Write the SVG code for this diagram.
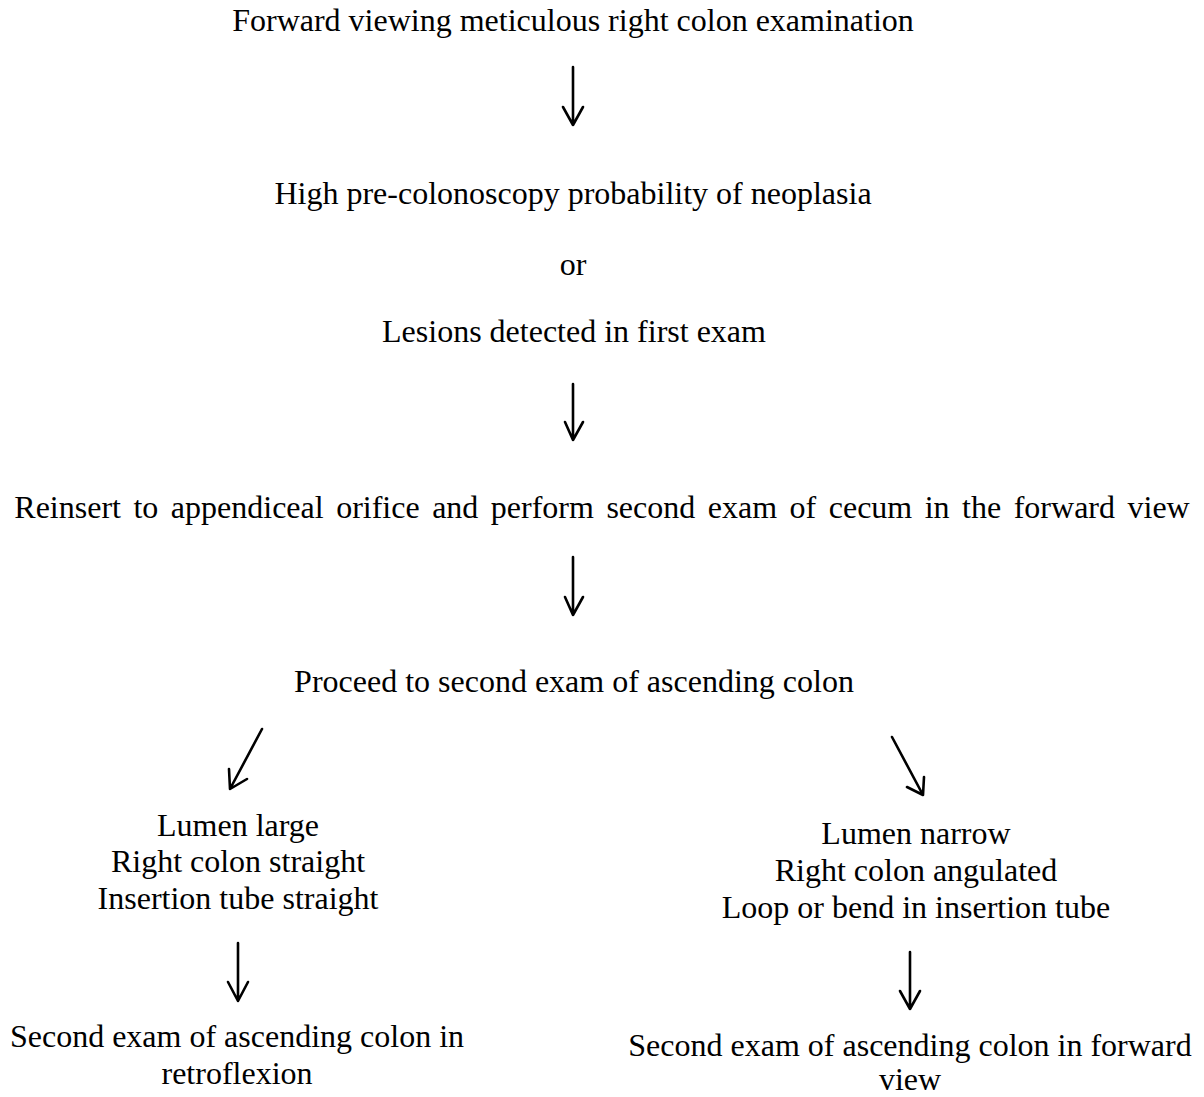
<svg xmlns="http://www.w3.org/2000/svg" width="1204" height="1097" viewBox="0 0 1204 1097">
<style>
  text { font-family: "Liberation Serif", "Times New Roman", serif; font-size: 32px; fill: #000; text-anchor: middle; }
  .arrow { fill: none; stroke: #000; stroke-width: 2.6; stroke-linecap: round; stroke-linejoin: round; }
</style>
<rect width="1204" height="1097" fill="#fff"/>
<g id="n1"><text x="573" y="31">Forward viewing meticulous right colon examination</text></g>
<g id="n2">
  <text x="573" y="204">High pre-colonoscopy probability of neoplasia</text>
  <text x="573" y="275">or</text>
  <text x="574" y="342">Lesions detected in first exam</text>
</g>
<g id="n3"><text x="602" y="518" word-spacing="4.5">Reinsert to appendiceal orifice and perform second exam of cecum in the forward view</text></g>
<g id="n4"><text x="574" y="692">Proceed to second exam of ascending colon</text></g>
<g id="n5">
  <text x="238" y="836">Lumen large</text>
  <text x="238" y="872">Right colon straight</text>
  <text x="238" y="909">Insertion tube straight</text>
</g>
<g id="n6">
  <text x="916" y="844">Lumen narrow</text>
  <text x="916" y="881">Right colon angulated</text>
  <text x="916" y="918">Loop or bend in insertion tube</text>
</g>
<g id="n7">
  <text x="237" y="1047">Second exam of ascending colon in</text>
  <text x="237" y="1084">retroflexion</text>
</g>
<g id="n8">
  <text x="910" y="1056">Second exam of ascending colon in forward</text>
  <text x="910" y="1090">view</text>
</g>
<g id="connectors">
  <path class="arrow" d="M573 67 V125 M563 107 L573 125 L583 107"/>
  <path class="arrow" d="M573 384 V440 M565 422 L573 440 L583 422"/>
  <path class="arrow" d="M573 557 V615 M565 597 L573 615 L583 597"/>
  <path class="arrow" d="M262 729 L230 789 M229 769 L230 789 L247 779"/>
  <path class="arrow" d="M892 737 L923 795 M924 777 L923 795 L907 787"/>
  <path class="arrow" d="M238 943 V1001 M228 982 L238 1001 L248 982"/>
  <path class="arrow" d="M910 952 V1009 M900 991 L910 1009 L920 991"/>
</g>
</svg>
